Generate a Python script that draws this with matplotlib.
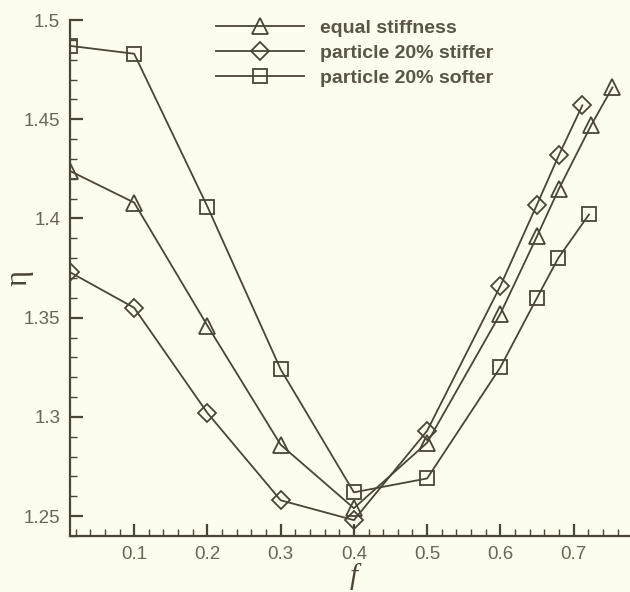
import numpy as np
import matplotlib
matplotlib.use("Agg")
import matplotlib.pyplot as plt
from matplotlib.ticker import MultipleLocator

# data
f_equal = [0.012, 0.1, 0.2, 0.3, 0.4, 0.5, 0.6, 0.65, 0.68, 0.724, 0.753]
eta_equal = [1.424, 1.408, 1.346, 1.286, 1.254, 1.287, 1.352, 1.391, 1.415, 1.447, 1.466]

f_stiff = [0.012, 0.1, 0.2, 0.3, 0.4, 0.5, 0.6, 0.65, 0.68, 0.712]
eta_stiff = [1.373, 1.355, 1.302, 1.258, 1.248, 1.293, 1.366, 1.407, 1.432, 1.457]

f_soft = [0.012, 0.1, 0.2, 0.3, 0.4, 0.5, 0.6, 0.65, 0.679, 0.721]
eta_soft = [1.487, 1.483, 1.406, 1.324, 1.262, 1.269, 1.325, 1.360, 1.380, 1.402]

labels = ["equal stiffness", "particle 20% stiffer", "particle 20% softer"]

plt.rcParams['font.family'] = ['Liberation Sans', 'DejaVu Sans']

bg = "#fcfcef"
ink = "#4a4535"

fig = plt.figure(figsize=(6.3, 5.92), dpi=100, facecolor=bg)
ax = fig.add_axes((0.111, 0.0946, 0.889, 0.8716))
ax.set_facecolor(bg)

mk = dict(color=ink, lw=1.3, markerfacecolor="none", markeredgecolor=ink, markeredgewidth=1.3)
ax.plot(f_equal, eta_equal, marker="^", ms=11, label=labels[0], **mk)
ax.plot(f_stiff, eta_stiff, marker="D", ms=9, label=labels[1], **mk)
ax.plot(f_soft, eta_soft, marker="s", ms=10, label=labels[2], **mk)

ax.set_xlim(0.0123, 0.777)
ax.set_ylim(1.24, 1.5)

ax.xaxis.set_minor_locator(MultipleLocator(0.02))
ax.yaxis.set_minor_locator(MultipleLocator(0.01))
ax.set_xticks([0.1, 0.2, 0.3, 0.4, 0.5, 0.6, 0.7])
ax.set_xticklabels(["0.1", "0.2", "0.3", "0.4", "0.5", "0.6", "0.7"])
ax.set_yticks([1.25, 1.3, 1.35, 1.4, 1.45, 1.5])
ax.set_yticklabels(["1.25", "1.3", "1.35", "1.4", "1.45", "1.5"])

ax.spines["top"].set_visible(False)
ax.spines["right"].set_visible(False)
ax.spines["bottom"].set_linewidth(1.6)
ax.spines["left"].set_linewidth(1.6)
ax.spines["bottom"].set_color(ink)
ax.spines["left"].set_color(ink)
ax.tick_params(which="major", direction="in", length=9, width=1.6, color=ink,
               labelsize=13.5, labelcolor="#6a6555", pad=7)
ax.tick_params(which="minor", direction="in", length=5, width=1.0, color=ink)

ax.set_xlabel("f", fontsize=21, color=ink, family="Liberation Serif", style="italic")
ax.xaxis.set_label_coords(0.506, -0.052)
ax.set_ylabel("η", fontsize=22, color=ink, family="Liberation Serif")
ax.yaxis.set_label_coords(-0.065, 0.5)

leg = ax.legend(loc="upper left", bbox_to_anchor=(0.23, 1.035), frameon=False,
                handlelength=4.5, handletextpad=0.85, labelspacing=0.38,
                prop={"size": 14, "weight": "bold"})
for t in leg.get_texts():
    t.set_color("#5a5545")

fig.savefig("out.png", dpi=100, facecolor=bg)
